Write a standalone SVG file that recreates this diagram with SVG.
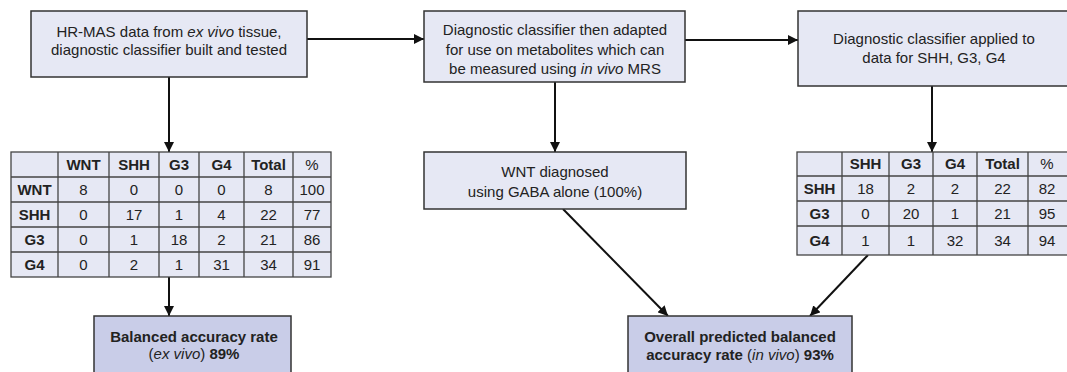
<svg xmlns="http://www.w3.org/2000/svg" width="1067" height="372" viewBox="0 0 1067 372">
<defs>
<marker id="ah" viewBox="0 0 10 10" refX="10" refY="5" markerWidth="10" markerHeight="10" markerUnits="userSpaceOnUse" orient="auto">
<path d="M0,0 L10,5 L0,10 z" fill="#111"/>
</marker>
<style>
.box{fill:#e6e8f4;stroke:#333;stroke-width:1.5}
.dbox{fill:#c9cde8;stroke:#333;stroke-width:1.5}
.cell{fill:#e6e8f4;stroke:#444;stroke-width:1.3}
text{font-family:"Liberation Sans",Arial,sans-serif;font-size:15px;fill:#222;text-anchor:middle}
.b{font-weight:bold}
.i{font-style:italic}
.c{stroke:#111;stroke-width:2;fill:none;marker-end:url(#ah)}
.g{stroke:#444;stroke-width:1.3}
</style>
</defs>
<rect width="1067" height="372" fill="#fff"/>

<g id="connectors">
<line class="c" x1="307" y1="39" x2="424" y2="39"/>
<line class="c" x1="685" y1="40" x2="798" y2="40"/>
<line class="c" x1="169" y1="77" x2="169" y2="152"/>
<line class="c" x1="555" y1="82" x2="555" y2="152"/>
<line class="c" x1="932" y1="86" x2="932" y2="152"/>
<line class="c" x1="169" y1="277" x2="169" y2="316"/>
<line class="c" x1="563" y1="209" x2="668" y2="316"/>
<line class="c" x1="868" y1="255" x2="810" y2="316"/>
</g>

<g id="n1">
<rect class="box" x="31" y="11" width="276" height="66"/>
<text x="169" y="37">HR-MAS data from <tspan class="i">ex vivo</tspan> tissue,</text>
<text x="169" y="55">diagnostic classifier built and tested</text>
</g>

<g id="n2">
<rect class="box" x="424" y="11" width="261" height="71"/>
<text x="555" y="35">Diagnostic classifier then adapted</text>
<text x="555" y="55">for use on metabolites which can</text>
<text x="555" y="74">be measured using <tspan class="i">in vivo</tspan> MRS</text>
</g>

<g id="n3">
<rect class="box" x="798" y="11" width="272" height="75"/>
<text x="934" y="44">Diagnostic classifier applied to</text>
<text x="934" y="63">data for SHH, G3, G4</text>
</g>

<g id="t1">
<rect class="cell" x="11" y="152" width="320" height="125"/>
<g class="g">
<line x1="11" y1="177" x2="331" y2="177"/>
<line x1="11" y1="202" x2="331" y2="202"/>
<line x1="11" y1="227" x2="331" y2="227"/>
<line x1="11" y1="252" x2="331" y2="252"/>
<line x1="58" y1="152" x2="58" y2="277"/>
<line x1="109" y1="152" x2="109" y2="277"/>
<line x1="159" y1="152" x2="159" y2="277"/>
<line x1="199" y1="152" x2="199" y2="277"/>
<line x1="244" y1="152" x2="244" y2="277"/>
<line x1="293" y1="152" x2="293" y2="277"/>
</g>
<g class="b">
<text x="83.5" y="170">WNT</text><text x="134" y="170">SHH</text><text x="179" y="170">G3</text><text x="221.5" y="170">G4</text><text x="268.5" y="170">Total</text>
<text x="34.5" y="195">WNT</text><text x="34.5" y="220">SHH</text><text x="34.5" y="245">G3</text><text x="34.5" y="270">G4</text>
</g>
<text x="312" y="170">%</text>
<text x="83.5" y="195">8</text><text x="134" y="195">0</text><text x="179" y="195">0</text><text x="221.5" y="195">0</text><text x="268.5" y="195">8</text><text x="312" y="195">100</text>
<text x="83.5" y="220">0</text><text x="134" y="220">17</text><text x="179" y="220">1</text><text x="221.5" y="220">4</text><text x="268.5" y="220">22</text><text x="312" y="220">77</text>
<text x="83.5" y="245">0</text><text x="134" y="245">1</text><text x="179" y="245">18</text><text x="221.5" y="245">2</text><text x="268.5" y="245">21</text><text x="312" y="245">86</text>
<text x="83.5" y="270">0</text><text x="134" y="270">2</text><text x="179" y="270">1</text><text x="221.5" y="270">31</text><text x="268.5" y="270">34</text><text x="312" y="270">91</text>
</g>

<g id="n4">
<rect class="box" x="424" y="152" width="262" height="57"/>
<text x="555" y="177">WNT diagnosed</text>
<text x="555" y="197">using GABA alone (100%)</text>
</g>

<g id="t2">
<rect class="cell" x="797" y="152" width="273" height="103"/>
<g class="g">
<line x1="797" y1="176" x2="1070" y2="176"/>
<line x1="797" y1="201" x2="1070" y2="201"/>
<line x1="797" y1="226" x2="1070" y2="226"/>
<line x1="842" y1="152" x2="842" y2="255"/>
<line x1="889" y1="152" x2="889" y2="255"/>
<line x1="933" y1="152" x2="933" y2="255"/>
<line x1="977" y1="152" x2="977" y2="255"/>
<line x1="1028" y1="152" x2="1028" y2="255"/>
</g>
<g class="b">
<text x="865.5" y="169">SHH</text><text x="911" y="169">G3</text><text x="955" y="169">G4</text><text x="1002.5" y="169">Total</text>
<text x="819.5" y="194">SHH</text><text x="819.5" y="219">G3</text><text x="819.5" y="246">G4</text>
</g>
<text x="1047" y="169">%</text>
<text x="865.5" y="194">18</text><text x="911" y="194">2</text><text x="955" y="194">2</text><text x="1002.5" y="194">22</text><text x="1047" y="194">82</text>
<text x="865.5" y="219">0</text><text x="911" y="219">20</text><text x="955" y="219">1</text><text x="1002.5" y="219">21</text><text x="1047" y="219">95</text>
<text x="865.5" y="246">1</text><text x="911" y="246">1</text><text x="955" y="246">32</text><text x="1002.5" y="246">34</text><text x="1047" y="246">94</text>
</g>

<g id="n5">
<rect class="dbox" x="94" y="316" width="197" height="60"/>
<text x="194" y="342" class="b">Balanced accuracy rate</text>
<text x="194" y="359">(<tspan class="i">ex vivo</tspan>) <tspan class="b">89%</tspan></text>
</g>

<g id="n6">
<rect class="dbox" x="628" y="316" width="224" height="60"/>
<text x="740" y="342" class="b">Overall predicted balanced</text>
<text x="740" y="360"><tspan class="b">accuracy rate</tspan> (<tspan class="i">in vivo</tspan>) <tspan class="b">93%</tspan></text>
</g>
</svg>
